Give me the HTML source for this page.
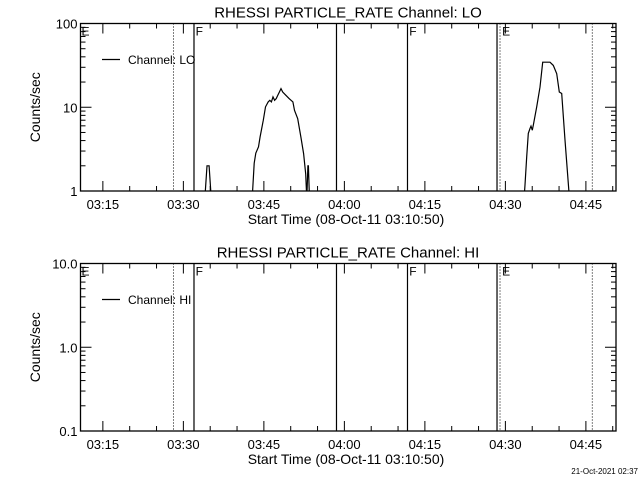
<!DOCTYPE html>
<html><head><meta charset="utf-8"><style>
html,body{margin:0;padding:0;background:#fff;}
svg{display:block;font-family:"Liberation Sans","DejaVu Sans",sans-serif;}
</style></head><body>
<svg id="chart" width="640" height="480" viewBox="0 0 640 480"></svg>
<script>
// Data (minutes after 03:00)
const loTimes = [34.0,34.4,34.8,35.2,
  42.9,43.2,43.5,44.0,44.3,44.9,45.3,45.8,46.1,46.4,46.7,47.0,47.3,47.6,47.9,48.2,48.5,49.1,49.7,50.4,50.7,51.3,51.9,52.4,52.8,53.0,53.2,53.3,53.5,
  93.47,93.65,93.97,94.27,94.59,94.77,95.01,95.20,95.83,96.45,96.95,98.31,98.93,99.56,100.05,100.49,101.1,101.94];
const loValues = [0.8,2.0,2.0,0.8,
  1.0,2.15,2.83,3.37,4.42,7.0,10.1,11.6,12.1,11.6,13.3,12.1,12.7,13.9,15.2,16.7,15.2,13.9,12.7,11.6,9.2,7.3,4.4,2.8,1.6,0.8,2.0,2.0,0.8,
  0.8,1.18,2.56,4.87,5.57,5.95,5.32,6.1,10.1,17.4,34.5,34.5,31.6,25.2,15.2,14.6,4.05,0.8];
const segBreaks = [4,33]; // indices where a new segment starts
const tickLabels = ["03:15","03:30","03:45","04:00","04:15","04:30","04:45"];
const tickMinutes = [15,30,45,60,75,90,105];
const solidLines = [31.98,58.53,71.76,88.44];
const dottedLines = [28.16,89.0,106.2];
const markLabels = [["E",10.84],["F",32.1],["F",71.9],["E",89.2]];
const loYTicks = [1,10,100];
const loYLabels = ["1","10","100"];
const hiYTicks = [0.1,1,10];
const hiYLabels = ["0.1","1.0","10.0"];

const NS="http://www.w3.org/2000/svg";
const svg=document.getElementById('chart');
const X0=80.5,X1=616,T0=10+50/60,PXM=5.367;
const xs=m=>X0+(m-T0)*PXM;
function el(tag,attrs,parent){const e=document.createElementNS(NS,tag);for(const k in attrs)e.setAttribute(k,attrs[k]);(parent||svg).appendChild(e);return e;}

function panel(top,ymin,ymax,yTicks,yLabels,title,chan,withData,idx){
  const bot=top+167.5;
  const g=el('g',{});
  
  
  const ys=v=>bot-(Math.log10(v)-Math.log10(ymin))/(Math.log10(ymax)-Math.log10(ymin))*(bot-top);
  const t=el('text',{x:348,y:top-6,'font-size':15,'text-anchor':'middle'},g);t.textContent=title;
  
  
  const cid='clip'+idx;
  const cp=el('clipPath',{id:cid},g);el('rect',{x:X0,y:top,width:X1-X0,height:bot-top},cp);
  solidLines.forEach(m=>{const l=el('line',{x1:xs(m),x2:xs(m),y1:top,y2:bot,stroke:'#000','stroke-width':1.2},g);
    
    });
  dottedLines.forEach(m=>{const l=el('line',{x1:xs(m),x2:xs(m),y1:top,y2:bot,stroke:'#000','stroke-width':1,'stroke-dasharray':'1,2'},g);
    
    });
  markLabels.forEach(([s,m])=>{const tx=el('text',{x:xs(m)+1,y:top+12,'font-size':12},g);tx.textContent=s;
    
    });
  if(withData){
    let starts=[0,...segBreaks],ends=[...segBreaks,loTimes.length];
    starts.forEach((s,i)=>{let d='';for(let j=s;j<ends[i];j++)d+=(j===s?'M':'L')+xs(loTimes[j]).toFixed(1)+','+ys(loValues[j]).toFixed(1);
      const p=el('path',{d,fill:'none',stroke:'#000','stroke-width':1.2,'clip-path':'url(#'+cid+')'},g);
      
      });
  }
  const r=el('rect',{x:X0,y:top,width:X1-X0,height:bot-top,fill:'none',stroke:'#000','stroke-width':1.3},g);
  
  
  const lo=Math.round(Math.log10(ymin)),hi=Math.round(Math.log10(ymax));
  for(let e=lo;e<hi;e++)for(let k=2;k<=9;k++){const y=ys(k*Math.pow(10,e));
    el('line',{x1:X0,x2:X0+5,y1:y,y2:y,stroke:'#000'},g);el('line',{x1:X1,x2:X1-5,y1:y,y2:y,stroke:'#000'},g);}
  yTicks.forEach((v,i)=>{const y=ys(v);
    el('line',{x1:X0,x2:X0+11,y1:y,y2:y,stroke:'#000'},g);el('line',{x1:X1,x2:X1-11,y1:y,y2:y,stroke:'#000'},g);
    const tx=el('text',{x:X0-3,y:y+5,'font-size':13,'text-anchor':'end'},g);tx.textContent=yLabels[i];
    
    });
  for(let m=15;m<=110;m+=5){const x=xs(m);if(x>X1)break;const len=(m%15===0)?10:5;
    el('line',{x1:x,x2:x,y1:bot,y2:bot-len,stroke:'#000'},g);el('line',{x1:x,x2:x,y1:top,y2:top+len,stroke:'#000'},g);}
  tickMinutes.forEach((m,i)=>{const tx=el('text',{x:xs(m),y:bot+18,'font-size':13,'text-anchor':'middle'},g);tx.textContent=tickLabels[i];
    
    });
  const xl=el('text',{x:346,y:bot+33,'font-size':14,'text-anchor':'middle'},g);xl.textContent='Start Time (08-Oct-11 03:10:50)';
  
  
  const yl=el('text',{x:0,y:0,'font-size':14,'text-anchor':'middle',transform:`translate(40,${(top+bot)/2}) rotate(-90)`},g);yl.textContent='Counts/sec';
  
  
  const lg=el('g',{},g);
  
  
  el('line',{x1:102,x2:120,y1:top+36,y2:top+36,stroke:'#000','stroke-width':1.2},lg);
  const lt=el('text',{x:128,y:top+40.5,'font-size':12},lg);lt.textContent='Channel: '+chan;
}
panel(23.5,1,100,loYTicks,loYLabels,'RHESSI PARTICLE_RATE Channel: LO','LO',true,0);
panel(263.5,0.1,10,hiYTicks,hiYLabels,'RHESSI PARTICLE_RATE Channel: HI','HI',false,1);
const ft=el('text',{x:638,y:474,'font-size':8,'text-anchor':'end'});ft.textContent='21-Oct-2021 02:37';


</script>
</body></html>
